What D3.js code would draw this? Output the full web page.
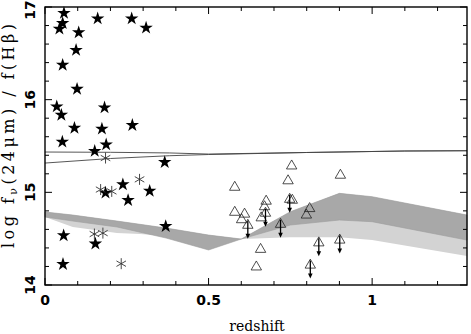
<!DOCTYPE html>
<html>
<head>
<meta charset="utf-8">
<script src="https://cdn.jsdelivr.net/npm/d3@7"></script>
<style>
  body { margin: 0; background: #fff; }
  svg { display: block; }
</style>
</head>
<body>
<svg id="chart" width="471" height="334"></svg>
<script>
// stars (filled)
const starZ = [0.058, 0.054, 0.044, 0.103, 0.161, 0.265, 0.309, 0.095, 0.054, 0.098,
               0.036, 0.050, 0.182, 0.090, 0.174, 0.267, 0.053, 0.187, 0.152, 0.366,
               0.238, 0.320, 0.185, 0.254, 0.369, 0.057, 0.154, 0.055];
const starR = [16.94, 16.83, 16.77, 16.73, 16.88, 16.88, 16.78, 16.54, 16.38, 16.12,
               15.93, 15.84, 15.92, 15.70, 15.69, 15.73, 15.55, 15.52, 15.45, 15.33,
               15.09, 15.02, 15.00, 14.92, 14.64, 14.54, 14.45, 14.23];

// asterisks
const astZ = [0.185, 0.170, 0.204, 0.289, 0.151, 0.177, 0.233];
const astR = [15.37, 15.03, 15.01, 15.14, 14.55, 14.56, 14.23];

// open triangles
const triZ = [0.580, 0.754, 0.743, 0.580, 0.610, 0.601, 0.676, 0.671, 0.661, 0.756,
              0.659, 0.646, 0.903, 0.809, 0.799];
const triR = [15.06, 15.29, 15.13, 14.79, 14.77, 14.71, 14.91, 14.85, 14.73, 14.92,
              14.39, 14.20, 15.19, 14.83, 14.76];

// triangles with upper-limit arrows
const limZ = [0.620, 0.674, 0.748, 0.720, 0.837, 0.901, 0.811];
const limR = [14.65, 14.78, 14.93, 14.66, 14.46, 14.49, 14.22];

// shaded bands
const darkZ   = [0, 0.085, 0.22, 0.37, 0.5, 0.6, 0.75, 0.9, 1.0, 1.29];
const darkTop = [14.788, 14.755, 14.69, 14.615, 14.539, 14.496, 14.791, 14.989, 14.953, 14.755];
const darkBot = [14.734, 14.69, 14.626, 14.507, 14.378, 14.496, 14.647, 14.701, 14.683, 14.485];

const lightZ   = [0, 0.085, 0.22, 0.29, 0.37, 0.5, 0.6, 0.75, 0.9, 1.0, 1.29];
const lightTop = [14.788, 14.755, 14.69, 14.655, 14.615, 14.539, 14.496, 14.791, 14.989, 14.953, 14.755];
const lightBot = [14.734, 14.626, 14.561, 14.55, 14.53, 14.45, 14.496, 14.515, 14.515, 14.485, 14.313];

// thin model curves
const curveZ = [0, 0.2, 0.38, 0.5, 0.8, 1.1, 1.29];
const curveA = [15.435, 15.432, 15.425, 15.413, 15.43, 15.446, 15.449];
const curveB = [15.316, 15.365, 15.395, 15.408, 15.43, 15.446, 15.449];

const xTicks = [0, 0.5, 1];
const xTickLabels = ["0", "0.5", "1"];
const yTicks = [14, 15, 16, 17];

const svg = d3.select("#chart");
const x = d3.scaleLinear().domain([0, 1.29]).range([45, 467]);
const y = d3.scaleLinear().domain([14, 17]).range([285, 7]);

const area = d3.area()
    .x(d => x(d[0]))
    .y0(d => y(d[2]))
    .y1(d => y(d[1]));

svg.append("path")
    .datum(lightZ.map((z, i) => [z, lightTop[i], lightBot[i]]))
    .attr("d", area)
    .attr("fill", "#d3d3d3");

svg.append("path")
    .datum(darkZ.map((z, i) => [z, darkTop[i], darkBot[i]]))
    .attr("d", area)
    .attr("fill", "#a8a8a8")
    .attr("stroke", "#9c9c9c")
    .attr("stroke-width", 0.6);

const line = d3.line().x(d => x(d[0])).y(d => y(d[1]));
[curveA, curveB].forEach(c => {
    svg.append("path")
        .datum(curveZ.map((z, i) => [z, c[i]]))
        .attr("d", line)
        .attr("fill", "none")
        .attr("stroke", "#444")
        .attr("stroke-width", 0.9);
});

// stars
svg.append("g")
    .selectAll("path")
    .data(starZ.map((z, i) => [z, starR[i]]))
    .join("path")
    .attr("transform", d => `translate(${x(d[0])},${y(d[1]) + 0.5})`)
    .attr("d", d3.symbol(d3.symbolStar, 56))
    .attr("fill", "#000");

// asterisks
const astPath = (() => {
    const r = 5.5;
    let p = "";
    [90, 30, 150].forEach(a => {
        const t = a * Math.PI / 180;
        const dx = r * Math.cos(t), dy = r * Math.sin(t);
        p += `M${-dx},${-dy}L${dx},${dy}`;
    });
    return p;
})();
svg.append("g")
    .selectAll("path")
    .data(astZ.map((z, i) => [z, astR[i]]))
    .join("path")
    .attr("transform", d => `translate(${x(d[0])},${y(d[1])})`)
    .attr("d", astPath)
    .attr("stroke", "#333")
    .attr("stroke-width", 0.9)
    .attr("fill", "none");

// triangles
const triPath = "M0,-5.5L5.2,3.5L-5.2,3.5Z";
svg.append("g")
    .selectAll("path")
    .data(triZ.map((z, i) => [z, triR[i]]))
    .join("path")
    .attr("transform", d => `translate(${x(d[0])},${y(d[1])})`)
    .attr("d", triPath)
    .attr("fill", "none")
    .attr("stroke", "#222")
    .attr("stroke-width", 0.8);

// upper limits
const lim = svg.append("g")
    .selectAll("g")
    .data(limZ.map((z, i) => [z, limR[i]]))
    .join("g")
    .attr("transform", d => `translate(${x(d[0])},${y(d[1])})`);
lim.append("path")
    .attr("d", triPath)
    .attr("fill", "none")
    .attr("stroke", "#222")
    .attr("stroke-width", 0.8);
lim.append("line")
    .attr("x1", 0).attr("y1", -4)
    .attr("x2", 0).attr("y2", 11)
    .attr("stroke", "#000")
    .attr("stroke-width", 1.3);
lim.append("path")
    .attr("d", "M-2.3,9L2.3,9L0,14Z")
    .attr("fill", "#000");

// ticks on all four sides
const tk = svg.append("g").attr("stroke", "#000").attr("stroke-width", 1);
const xMinor = d3.range(0, 1.2901, 0.1);
xMinor.forEach(v => {
    const major = Math.abs(v * 2 - Math.round(v * 2)) < 1e-6;
    const len = major ? 7 : 4;
    tk.append("line").attr("x1", x(v)).attr("x2", x(v)).attr("y1", 285).attr("y2", 285 - len);
    tk.append("line").attr("x1", x(v)).attr("x2", x(v)).attr("y1", 7).attr("y2", 7 + len);
});
const yMinor = d3.range(14, 17.001, 0.2);
yMinor.forEach(v => {
    const major = Math.abs(v - Math.round(v)) < 1e-6;
    const len = major ? 7 : 4;
    tk.append("line").attr("y1", y(v)).attr("y2", y(v)).attr("x1", 45).attr("x2", 45 + len);
    tk.append("line").attr("y1", y(v)).attr("y2", y(v)).attr("x1", 467).attr("x2", 467 - len);
});

// frame
svg.append("rect")
    .attr("x", 45).attr("y", 7)
    .attr("width", 422).attr("height", 278)
    .attr("fill", "none")
    .attr("stroke", "#000")
    .attr("stroke-width", 1.4);

// tick labels
svg.append("g")
    .selectAll("text")
    .data(xTicks)
    .join("text")
    .attr("x", d => x(d))
    .attr("y", 305)
    .attr("text-anchor", "middle")
    .attr("font-family", "DejaVu Sans, sans-serif")
    .attr("font-weight", "bold")
    .attr("font-size", 14)
    .text((d, i) => xTickLabels[i]);

svg.append("g")
    .selectAll("text")
    .data(yTicks)
    .join("text")
    .attr("transform", d => `translate(35,${Math.max(y(d), 10)}) rotate(-90)`)
    .attr("text-anchor", "middle")
    .attr("font-family", "DejaVu Sans, sans-serif")
    .attr("font-weight", "bold")
    .attr("font-size", 14)
    .text(d => d);

// axis titles
svg.append("text")
    .attr("x", 257)
    .attr("y", 331)
    .attr("text-anchor", "middle")
    .attr("font-family", "DejaVu Serif, serif")
    .attr("font-size", 14)
    .text("redshift");

const yl = svg.append("text")
    .attr("transform", "translate(14,136) rotate(-90)")
    .attr("text-anchor", "middle")
    .attr("font-family", "DejaVu Serif, serif")
    .attr("font-size", 16)
    .attr("textLength", 224)
    .attr("lengthAdjust", "spacing");
yl.append("tspan").text("log f");
yl.append("tspan").attr("font-size", 11).attr("dy", 3).text("ν");
yl.append("tspan").attr("dy", -3).text("(24μm) / f(Hβ)");
</script>
</body>
</html>
